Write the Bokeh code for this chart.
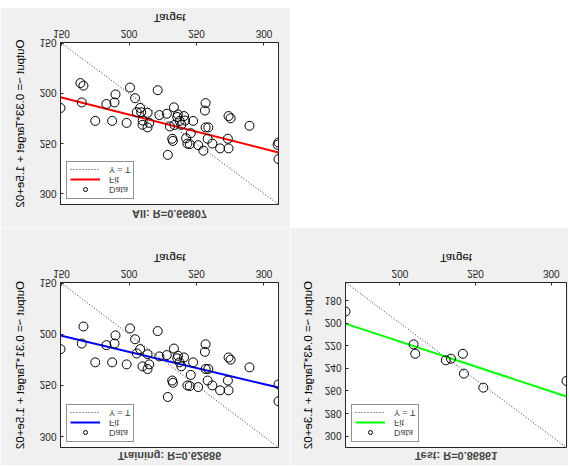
import numpy as np
from bokeh.plotting import figure
from bokeh.models import FixedTicker, Legend, LegendItem, Spacer
from bokeh.layouts import column, row
from bokeh.embed import file_html
from bokeh.resources import INLINE

# ---- data ----
train_target = [166.25, 200.75, 221.25, 190.0, 204.5, 256.75, 165.0, 189.25, 183.25, 233.25,
                256.25, 208.25, 213.75, 205.75, 149.25, 228.0, 222.5, 236.25, 235.75, 240.75,
                247.5, 273.75, 275.25, 175.0, 187.5, 198.25, 210.0, 213.75, 215.0, 237.5,
                238.75, 256.75, 258.75, 289.25, 245.75, 232.0, 232.5, 258.25, 273.25, 243.25,
                245.0, 251.25, 261.75, 267.5, 273.75, 310.75, 228.75, 310.75]
train_output = [192.3, 194.2, 196.8, 201.0, 204.8, 209.7, 209.0, 209.0, 210.6, 213.9,
                217.1, 214.5, 219.4, 218.7, 214.5, 220.3, 221.6, 221.0, 223.5, 222.6,
                227.4, 222.6, 224.8, 227.4, 227.4, 229.4, 231.3, 233.9, 229.4, 227.4,
                231.3, 233.9, 233.9, 232.3, 239.7, 245.2, 247.4, 245.2, 245.2, 250.0,
                250.6, 251.6, 250.0, 254.8, 254.8, 249.0, 261.3, 265.5]
test_target = [164.0, 209.0, 210.1, 230.3, 233.7, 241.6, 242.3, 255.1, 310.1]
test_output = [189.7, 218.8, 227.1, 232.9, 231.5, 227.1, 244.7, 257.1, 251.2]
all_target = train_target + test_target
all_output = train_output + test_output

# fitted lines (slope, intercept)
fit_train = [0.315, 154.2]
fit_test = [0.442, 127.9]
fit_all = [0.341, 152.9]

titles = {"train": "Training: R=0.62686", "test": "Test: R=0.86861", "all": "All: R=0.66807"}
ylabels = {"train": "Output ~= 0.31*Target + 1.5e+02",
           "test": "Output ~= 0.43*Target + 1.3e+02",
           "all": "Output ~= 0.33*Target + 1.5e+02"}
x_ticks_big = [150, 200, 250, 300]
y_ticks_big = [150, 200, 250, 300]
x_ticks_test = [200, 250, 300]
y_ticks_test = [180, 200, 220, 240, 260, 280, 300]
legend_labels = ["Data", "Fit", "Y = T"]

FONT = "Liberation Sans"
AX = "#262626"
BG = "#f0f0f0"


def panel(t, y, fit, title, ylabel, color, xt, yt, w, h, bl, br, bt, bb,
          ylab_standoff, title_standoff):
    t = np.asarray(t, float)
    y = np.asarray(y, float)
    lo = min(t.min(), y.min())
    hi = max(t.max(), y.max())
    p = figure(width=w, height=h, x_range=(lo, hi), y_range=(lo, hi),
               output_backend="svg", toolbar_location=None,
               min_border_left=bl, min_border_right=br, min_border_top=bt, min_border_bottom=bb)
    p.background_fill_color = "white"
    p.border_fill_color = BG
    p.outline_line_color = AX
    p.outline_line_width = 1
    p.grid.visible = False
    p.title.text = title
    p.title.text_font = FONT
    p.title.text_font_size = "11px"
    p.title.text_font_style = "bold"
    p.title.align = "center"
    p.title.standoff = title_standoff
    p.xaxis.axis_label = "Target"
    p.yaxis.axis_label = ylabel
    p.xaxis.ticker = FixedTicker(ticks=xt)
    p.yaxis.ticker = FixedTicker(ticks=yt)
    for ax in (p.xaxis, p.yaxis):
        ax.major_tick_in = 3
        ax.major_tick_out = 0
        ax.minor_tick_line_color = None
        ax.axis_line_color = AX
        ax.major_tick_line_color = AX
        ax.major_label_text_font = FONT
        ax.major_label_text_font_size = "10px"
        ax.major_label_text_color = AX
        ax.major_label_standoff = 4
        ax.axis_label_text_font = FONT
        ax.axis_label_text_font_size = "11.5px"
        ax.axis_label_text_font_style = "normal"
        ax.axis_label_text_color = "black"
    p.xaxis.major_label_standoff = 5
    p.xaxis.axis_label_standoff = 3
    p.yaxis.axis_label_standoff = ylab_standoff

    m, b = fit
    xs = np.array([lo, hi])
    r_yt = p.line(xs, xs, line_color="#333333", line_width=1, line_dash="1 2")
    r_fit = p.line(xs, m * xs + b, line_color=color, line_width=2)
    r_dat = p.scatter(t, y, marker="circle", size=9, fill_color=None,
                      line_color="black", line_width=1)
    leg = Legend(items=[LegendItem(label=legend_labels[0], renderers=[r_dat]),
                        LegendItem(label=legend_labels[1], renderers=[r_fit]),
                        LegendItem(label=legend_labels[2], renderers=[r_yt])],
                 location="top_left")
    leg.label_text_font = FONT
    leg.label_text_font_size = "9px"
    leg.glyph_width = 30
    leg.glyph_height = 10
    leg.label_height = 10
    leg.label_standoff = 9
    leg.padding = 3
    leg.spacing = 0
    leg.margin = 6
    leg.border_line_color = AX
    leg.border_line_width = 1
    leg.background_fill_alpha = 1
    p.add_layout(leg)
    return p


p_train = panel(train_target, train_output, fit_train, titles["train"], ylabels["train"], "#0000ff",
                x_ticks_big, y_ticks_big, 290, 238, 60, 12, 17, 55, 11, 4)
p_test = panel(test_target, test_output, fit_test, titles["test"], ylabels["test"], "#00ff00",
               x_ticks_test, y_ticks_test, 278, 238, 55, 2, 18, 54, 8, 4)
p_all = panel(all_target, all_output, fit_all, titles["all"], ylabels["all"], "#ff0000",
              x_ticks_big, y_ticks_big, 290, 220, 60, 12, 23, 35, 11, 7)

root = column(row(p_train, p_test),
              row(column(p_all, Spacer(width=290, height=8)), Spacer(width=278, height=228)))
root.styles = {"transform": "scaleY(-1)"}

open("out.html", "w").write(file_html(root, INLINE))
